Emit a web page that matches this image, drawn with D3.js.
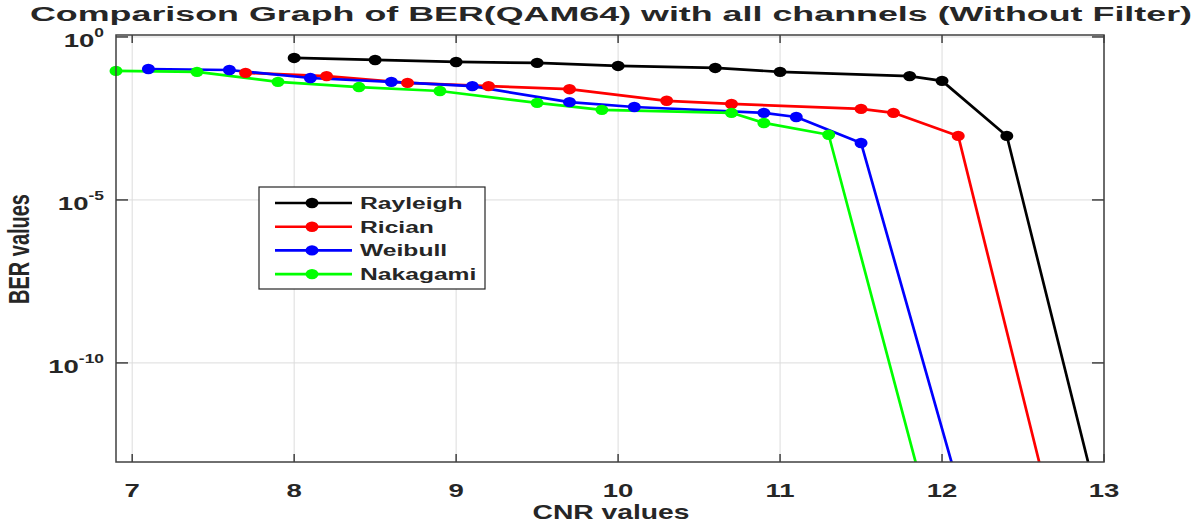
<!DOCTYPE html>
<html>
<head>
<meta charset="utf-8">
<script src="https://cdn.jsdelivr.net/npm/d3@7"></script>
<style>
  html, body { margin: 0; padding: 0; background: #fff; }
  text { font-family: Arial, "Liberation Sans", sans-serif; font-weight: bold; fill: #262626; }
</style>
</head>
<body>
<div id="chart"></div>
<script>
// CNR (x) and BER (y) for each channel
const cnrRayleigh = [8, 8.5, 9, 9.5, 10, 10.6, 11, 11.8, 12, 12.4, 13];
const berRayleigh = [0.227, 0.197, 0.171, 0.16, 0.129, 0.112, 0.085, 0.063, 0.045, 9.2e-4, 1e-15];

const cnrRician = [7.7, 8.2, 8.7, 9.2, 9.7, 10.3, 10.7, 11.5, 11.7, 12.1, 12.7];
const berRician = [0.079, 0.063, 0.039, 0.031, 0.025, 0.011, 0.0088, 0.0062, 0.0047, 9.2e-4, 9e-16];

const cnrWeibull = [7.1, 7.6, 8.1, 8.6, 9.1, 9.7, 10.1, 10.9, 11.1, 11.5, 12.1];
const berWeibull = [0.104, 0.097, 0.055, 0.042, 0.031, 0.010, 0.0071, 0.0047, 0.0035, 5.6e-4, 1.7e-14];

const cnrNakagami = [6.9, 7.4, 7.9, 8.4, 8.9, 9.5, 9.9, 10.7, 10.9, 11.3, 11.9];
const berNakagami = [0.091, 0.085, 0.042, 0.029, 0.022, 0.0095, 0.0058, 0.0047, 0.0023, 1e-3, 6e-15];

const channelNames = ['Rayleigh', 'Rician', 'Weibull', 'Nakagami'];
const channelColors = ['#000000', '#ff0000', '#0000ff', '#00ff00'];

const xTicks = [7, 8, 9, 10, 11, 12, 13];
const yTickExps = [0, -5, -10];

const series = [
  { name: channelNames[0], color: channelColors[0], x: cnrRayleigh, y: berRayleigh },
  { name: channelNames[1], color: channelColors[1], x: cnrRician, y: berRician },
  { name: channelNames[2], color: channelColors[2], x: cnrWeibull, y: berWeibull },
  { name: channelNames[3], color: channelColors[3], x: cnrNakagami, y: berNakagami }
];

const W = 1193, H = 525;
const plot = { left: 116, right: 1104, top: 35, bottom: 462 };
const SX = 1.45; // the reference is stretched horizontally; text follows

const svg = d3.select('#chart').append('svg')
  .attr('width', W).attr('height', H);

const x = d3.scaleLinear().domain([6.9, 13]).range([plot.left, plot.right]);
const y = d3.scaleLog().domain([Math.pow(10, -13.04), Math.pow(10, 0.06)]).range([plot.bottom, plot.top]);

// put a stretched text at (px, py)
function label(parent, px, py, str, size, anchor, rot) {
  const g = parent.append('g')
    .attr('transform', `translate(${px},${py}) scale(${SX},1)` + (rot ? ` rotate(${rot})` : ''));
  return g.append('text')
    .attr('text-anchor', anchor || 'middle')
    .style('font-size', size + 'px')
    .text(str);
}

// grid
const grid = svg.append('g').attr('stroke', '#dcdcdc').attr('stroke-width', 1);
xTicks.forEach((t) => {
  grid.append('line').attr('x1', x(t)).attr('x2', x(t)).attr('y1', plot.top).attr('y2', plot.bottom);
});
yTickExps.forEach((e) => {
  grid.append('line').attr('x1', plot.left).attr('x2', plot.right)
    .attr('y1', y(Math.pow(10, e))).attr('y2', y(Math.pow(10, e)));
});

svg.append('defs').append('clipPath').attr('id', 'plot-clip')
  .append('rect')
  .attr('x', plot.left).attr('y', plot.top)
  .attr('width', plot.right - plot.left).attr('height', plot.bottom - plot.top);

const line = d3.line().x((d) => x(d[0])).y((d) => y(d[1]));

const lines = svg.append('g').attr('clip-path', 'url(#plot-clip)');
const marks = svg.append('g');
const yMin = y.domain()[0];

series.forEach((s) => {
  const pts = s.x.map((v, i) => [v, s.y[i]]);
  lines.append('path')
    .attr('d', line(pts))
    .attr('fill', 'none')
    .attr('stroke', s.color)
    .attr('stroke-width', 2.7)
    .attr('stroke-linejoin', 'round');
  marks.selectAll(null)
    .data(pts.filter((p) => p[1] >= yMin))
    .enter()
    .append('ellipse')
    .attr('cx', (d) => x(d[0]))
    .attr('cy', (d) => y(d[1]))
    .attr('rx', 6.5)
    .attr('ry', 5.2)
    .attr('fill', s.color);
});

// axes box and inward ticks
const axis = svg.append('g').attr('stroke', '#404040').attr('stroke-width', 1.5).attr('fill', 'none');
axis.append('rect')
  .attr('x', plot.left).attr('y', plot.top)
  .attr('width', plot.right - plot.left).attr('height', plot.bottom - plot.top);
xTicks.forEach((t) => {
  axis.append('line').attr('x1', x(t)).attr('x2', x(t)).attr('y1', plot.bottom).attr('y2', plot.bottom - 8);
  axis.append('line').attr('x1', x(t)).attr('x2', x(t)).attr('y1', plot.top).attr('y2', plot.top + 8);
});
yTickExps.forEach((e) => {
  const yy = y(Math.pow(10, e));
  axis.append('line').attr('x1', plot.left).attr('x2', plot.left + 12).attr('y1', yy).attr('y2', yy);
  axis.append('line').attr('x1', plot.right).attr('x2', plot.right - 12).attr('y1', yy).attr('y2', yy);
});

// x tick labels
xTicks.forEach((t) => {
  label(svg, x(t), 497, String(t), 19);
});

// y tick labels: 10^e
yTickExps.forEach((e) => {
  const yy = y(Math.pow(10, e));
  const t = label(svg, 104, yy + 10, '', 19, 'end');
  t.append('tspan').text('10');
  t.append('tspan').attr('dy', -10).style('font-size', '12px').text(String(e));
});

// axis titles
label(svg, 611, 519, 'CNR values', 19.5);
label(svg, 29, 249, 'BER values', 20, 'middle', -90);

// title, fitted to its width in the reference
const title = label(svg, 611, 21, 'Comparison Graph of BER(QAM64) with all channels (Without Filter)', 21);
const natural = title.node().getComputedTextLength();
title.node().parentNode.setAttribute('transform', `translate(611,21) scale(${1162 / natural},1)`);

// legend
const legend = svg.append('g');
legend.append('rect')
  .attr('x', 259).attr('y', 187).attr('width', 226).attr('height', 102)
  .attr('fill', '#fff').attr('stroke', '#262626').attr('stroke-width', 1.2);
series.forEach((s, i) => {
  const ly = 203 + i * 23.7;
  legend.append('line')
    .attr('x1', 275).attr('x2', 352).attr('y1', ly).attr('y2', ly)
    .attr('stroke', s.color).attr('stroke-width', 2.6);
  legend.append('ellipse')
    .attr('cx', 312).attr('cy', ly).attr('rx', 6.5).attr('ry', 5.2).attr('fill', s.color);
  label(legend, 360, ly + 6, s.name, 17, 'start');
});
</script>
</body>
</html>
